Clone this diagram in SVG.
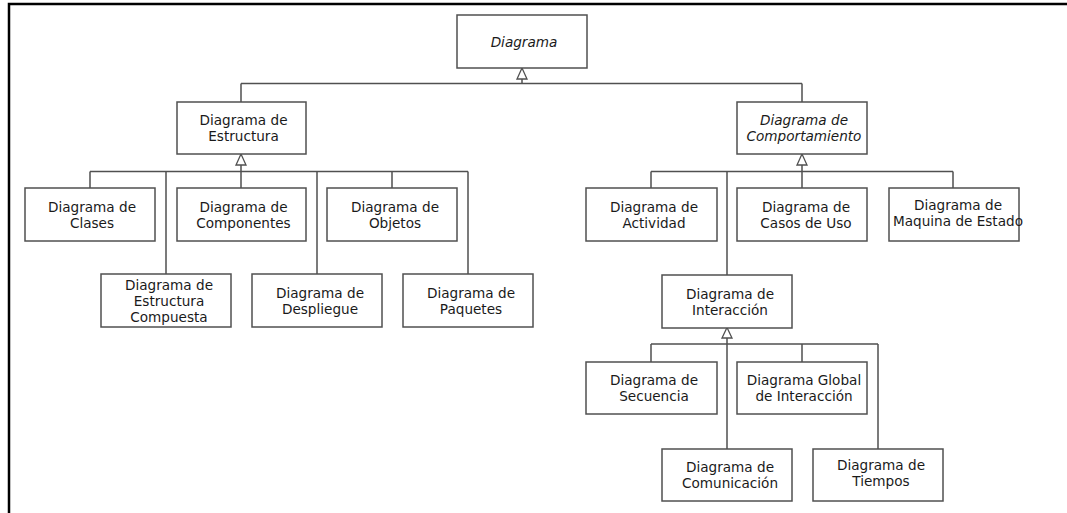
<svg xmlns="http://www.w3.org/2000/svg" width="1067" height="513" viewBox="0 0 1067 513">
<style>
.box{fill:#fff;stroke:#505050;stroke-width:1.5}
.c{fill:none;stroke:#505050;stroke-width:1.5}
.ar{fill:#fff;stroke:#505050;stroke-width:1.3}
text{font-family:"DejaVu Sans","Noto Sans",sans-serif;font-size:13.6px;fill:#1a1a1a;text-anchor:middle}
.it{font-style:italic}
</style>
<rect width="1067" height="513" fill="#fff"/>
<path d="M9,513 V4 H1067" fill="none" stroke="#000" stroke-width="2.5"/>
<g id="connectors">
<path class="c" d="M522,79 V83.5 M241,83.5 H802 M241,83.5 V102 M802,83.5 V102"/>
<path class="c" d="M241,165 V188 M90,171.5 H468 M90,171.5 V188 M166,171.5 V274 M317,171.5 V274 M392,171.5 V188 M468,171.5 V274"/>
<path class="c" d="M802,165 V188 M651,171.5 H953 M651,171.5 V188 M727,171.5 V275 M953,171.5 V188"/>
<path class="c" d="M727,338 V449 M651,344 H878 M651,344 V362 M802,344 V362 M878,344 V449"/>
<polygon class="ar" points="522,68 517,79 527,79"/>
<polygon class="ar" points="241,154 236,165 246,165"/>
<polygon class="ar" points="802,154 797,165 807,165"/>
<polygon class="ar" points="727,327.5 722,338 732,338"/>
</g>
<g id="n-diagrama"><rect class="box" x="457" y="15" width="130" height="53"/><text class="it" x="524" y="46.5">Diagrama</text></g>
<g id="n-estructura"><rect class="box" x="177" y="102" width="129" height="52"/><text x="243.5" y="125">Diagrama de</text><text x="243.5" y="141">Estructura</text></g>
<g id="n-comportamiento"><rect class="box" x="737" y="102" width="130" height="52"/><text class="it" x="804" y="125">Diagrama de</text><text class="it" x="804" y="141">Comportamiento</text></g>
<g id="n-clases"><rect class="box" x="25" y="188" width="130" height="53"/><text x="92" y="211.5">Diagrama de</text><text x="92" y="227.5">Clases</text></g>
<g id="n-componentes"><rect class="box" x="177" y="188" width="129" height="53"/><text x="243.5" y="211.5">Diagrama de</text><text x="243.5" y="227.5">Componentes</text></g>
<g id="n-objetos"><rect class="box" x="327" y="188" width="130" height="53"/><text x="395" y="211.5">Diagrama de</text><text x="395" y="227.5">Objetos</text></g>
<g id="n-compuesta"><rect class="box" x="101" y="274" width="130" height="53"/><text x="169" y="289.5">Diagrama de</text><text x="169" y="306">Estructura</text><text x="169" y="321.5">Compuesta</text></g>
<g id="n-despliegue"><rect class="box" x="252" y="274" width="130" height="53"/><text x="320" y="298">Diagrama de</text><text x="320" y="314">Despliegue</text></g>
<g id="n-paquetes"><rect class="box" x="403" y="274" width="130" height="53"/><text x="471" y="298">Diagrama de</text><text x="471" y="314">Paquetes</text></g>
<g id="n-actividad"><rect class="box" x="586" y="188" width="131" height="53"/><text x="654" y="211.5">Diagrama de</text><text x="654" y="227.5">Actividad</text></g>
<g id="n-casos"><rect class="box" x="737" y="188" width="130" height="53"/><text x="806" y="211.5">Diagrama de</text><text x="806" y="227.5">Casos de Uso</text></g>
<g id="n-maquina"><rect class="box" x="889" y="188" width="130" height="53"/><text x="958" y="209.5">Diagrama de</text><text x="958" y="225.5">Maquina de Estado</text></g>
<g id="n-interaccion"><rect class="box" x="662" y="275" width="130" height="53"/><text x="730" y="298.5">Diagrama de</text><text x="730" y="314.5">Interacción</text></g>
<g id="n-secuencia"><rect class="box" x="586" y="362" width="131" height="52"/><text x="654" y="385">Diagrama de</text><text x="654" y="401">Secuencia</text></g>
<g id="n-global"><rect class="box" x="737" y="362" width="130" height="52"/><text x="804" y="385">Diagrama Global</text><text x="804" y="401">de Interacción</text></g>
<g id="n-comunicacion"><rect class="box" x="662" y="449" width="130" height="52"/><text x="730" y="472">Diagrama de</text><text x="730" y="488">Comunicación</text></g>
<g id="n-tiempos"><rect class="box" x="813" y="449" width="130" height="52"/><text x="881" y="470">Diagrama de</text><text x="881" y="486">Tiempos</text></g>
</svg>
